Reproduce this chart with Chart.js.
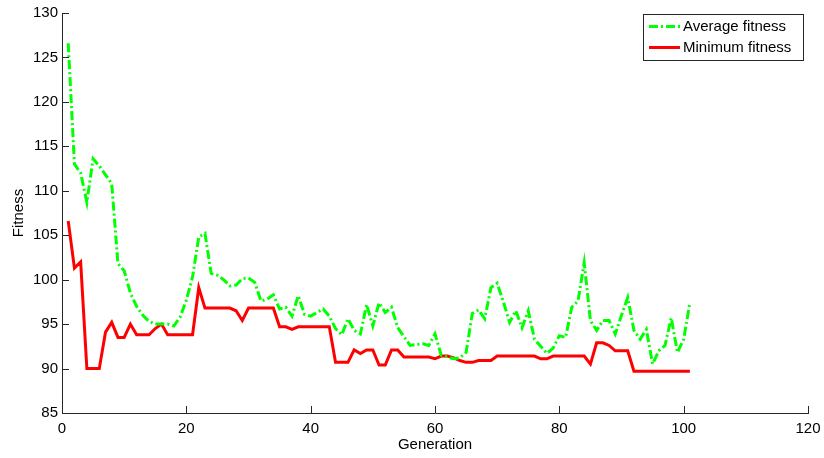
<!DOCTYPE html>
<html>
<head>
<meta charset="utf-8">
<script src="https://cdn.jsdelivr.net/npm/chart.js@4/dist/chart.umd.min.js"></script>
<style>
  html, body { margin: 0; padding: 0; background: #fff; }
  #wrap { width: 824px; height: 458px; }
</style>
</head>
<body>
<div id="wrap"><canvas id="fitChart"></canvas></div>
<script>
// generation index 1..101
const generations = [];
for (let g = 1; g <= 101; g++) generations.push(g);

const avgFitness = [
  126.6, 113.0, 112.0, 108.7, 113.6, 112.8, 111.8, 110.8, 101.8, 101.0,
  98.5, 97.0, 96.0, 95.3, 95.0, 95.0, 95.0, 94.8, 95.8, 97.7,
  100.3, 104.8, 105.2, 100.7, 100.5, 100.0, 99.3, 99.4, 100.1, 100.2,
  99.7, 97.6, 97.8, 98.3, 96.7, 96.9, 95.9, 98.2, 96.1, 95.9,
  96.3, 96.7, 95.9, 94.5, 93.8, 95.6, 94.3, 93.9, 97.2, 94.8,
  97.4, 96.3, 96.9, 94.6, 93.6, 92.6, 92.7, 92.8, 92.6, 93.9,
  91.5, 91.3, 91.1, 91.2, 91.8, 96.2, 96.6, 95.6, 99.1, 99.6,
  97.5, 95.2, 96.5, 94.6, 96.5, 93.3, 92.5, 91.7, 92.3, 93.7,
  93.5, 96.9, 97.6, 101.9, 95.4, 94.3, 95.4, 95.4, 93.9, 96.0,
  98.0, 94.3, 93.3, 94.4, 90.5, 92.0, 92.6, 95.7, 91.8, 93.3,
  97.4
];

const minFitness = [
  106.6, 101.3, 102.0, 90.0, 90.0, 90.0, 94.1, 95.2, 93.5, 93.5,
  95.0, 93.8, 93.8, 93.8, 94.5, 95.0, 93.8, 93.8, 93.8, 93.8,
  93.8, 99.1, 96.8, 96.8, 96.8, 96.8, 96.8, 96.5, 95.4, 96.8,
  96.8, 96.8, 96.8, 96.8, 94.7, 94.7, 94.4, 94.7, 94.7, 94.7,
  94.7, 94.7, 94.7, 90.7, 90.7, 90.7, 92.1, 91.7, 92.1, 92.1,
  90.4, 90.4, 92.1, 92.1, 91.3, 91.3, 91.3, 91.3, 91.3, 91.1,
  91.4, 91.4, 91.2, 90.9, 90.7, 90.7, 90.9, 90.9, 90.9, 91.4,
  91.4, 91.4, 91.4, 91.4, 91.4, 91.4, 91.1, 91.1, 91.4, 91.4,
  91.4, 91.4, 91.4, 91.4, 90.5, 92.9, 92.9, 92.6, 92.0, 92.0,
  92.0, 89.7, 89.7, 89.7, 89.7, 89.7, 89.7, 89.7, 89.7, 89.7,
  89.7
];

const xTicks = [0, 20, 40, 60, 80, 100, 120];
const yTicks = [85, 90, 95, 100, 105, 110, 115, 120, 125, 130];

const FONT = '"Liberation Sans", Arial, sans-serif';
const AXIS = '#262626';

const pts = arr => arr.map((v, i) => ({ x: generations[i], y: v }));

// matlab style: ticks inside the axes, legend box top right
const matlabBits = {
  id: 'matlabBits',
  afterDraw(chart) {
    const ctx = chart.ctx;
    const xs = chart.scales.x, ys = chart.scales.y;
    const area = chart.chartArea;
    ctx.save();
    ctx.strokeStyle = AXIS;
    ctx.lineWidth = 1;
    ctx.beginPath();
    xs.ticks.forEach(t => {
      const px = Math.round(xs.getPixelForValue(t.value)) + 0.5;
      ctx.moveTo(px, area.bottom);
      ctx.lineTo(px, area.bottom - 7);
    });
    ys.ticks.forEach(t => {
      const py = Math.round(ys.getPixelForValue(t.value)) + 0.5;
      ctx.moveTo(area.left, py);
      ctx.lineTo(area.left + 7, py);
    });
    ctx.stroke();

    // legend
    const bx = 643.5, by = 14.5, bw = 160, bh = 46;
    ctx.fillStyle = '#fff';
    ctx.fillRect(bx, by, bw, bh);
    ctx.strokeStyle = AXIS;
    ctx.strokeRect(bx, by, bw, bh);
    ctx.font = '15px ' + FONT;
    ctx.textBaseline = 'middle';
    chart.data.datasets.forEach((ds, i) => {
      const ly = 26.5 + i * 21;
      ctx.strokeStyle = ds.borderColor;
      ctx.lineWidth = ds.borderWidth;
      ctx.setLineDash(ds.borderDash || []);
      ctx.beginPath();
      ctx.moveTo(649, ly);
      ctx.lineTo(680, ly);
      ctx.stroke();
      ctx.setLineDash([]);
      ctx.fillStyle = '#000';
      ctx.fillText(ds.label, 683, ly);
    });
    ctx.restore();
  }
};

new Chart(document.getElementById('fitChart'), {
  type: 'line',
  data: {
    datasets: [
      {
        label: 'Average fitness',
        data: pts(avgFitness),
        borderColor: '#00ff00',
        borderWidth: 3,
        borderDash: [9, 3, 2, 3],
        pointRadius: 0,
        tension: 0
      },
      {
        label: 'Minimum fitness',
        data: pts(minFitness),
        borderColor: '#ff0000',
        borderWidth: 3,
        pointRadius: 0,
        tension: 0
      }
    ]
  },
  options: {
    responsive: true,
    maintainAspectRatio: false,
    animation: false,
    layout: { padding: { top: 9, right: 16, left: 0, bottom: 0 } },
    plugins: {
      legend: { display: false },
      tooltip: { enabled: false }
    },
    scales: {
      x: {
        type: 'linear',
        min: 0,
        max: 120,
        afterBuildTicks: s => { s.ticks = xTicks.map(v => ({ value: v })); },
        afterFit: s => {
          s.height = 45;
          s.paddingLeft = 0;
          s.paddingRight = 0;
        },
        grid: { display: false, drawTicks: false },
        border: { display: true, color: AXIS, width: 1 },
        ticks: { color: '#000', padding: 7, font: { family: FONT, size: 15 } },
        title: {
          display: true,
          text: 'Generation',
          color: '#000',
          font: { family: FONT, size: 15 },
          padding: { top: 0, bottom: 4 }
        }
      },
      y: {
        min: 85,
        max: 130,
        afterBuildTicks: s => { s.ticks = yTicks.map(v => ({ value: v })); },
        afterFit: s => { s.width = 62; },
        grid: { display: false, drawTicks: false },
        border: { display: true, color: AXIS, width: 1 },
        ticks: { color: '#000', padding: 4, font: { family: FONT, size: 15 } },
        title: {
          display: true,
          text: 'Fitness',
          color: '#000',
          font: { family: FONT, size: 15 },
          padding: { top: 10, bottom: 0 }
        }
      }
    }
  },
  plugins: [matlabBits]
});
</script>
</body>
</html>
